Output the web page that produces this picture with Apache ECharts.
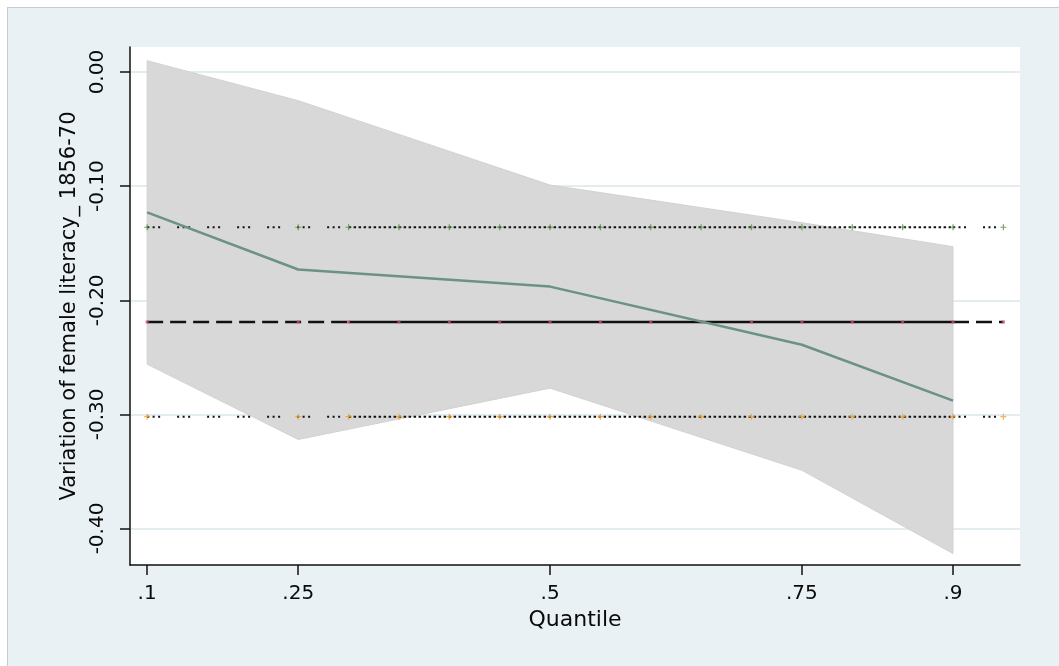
<!DOCTYPE html>
<html>
<head>
<meta charset="utf-8">
<script src="https://cdn.jsdelivr.net/npm/echarts@6/dist/echarts.min.js"></script>
<style>
  html, body { margin: 0; padding: 0; background: #ffffff; }
  #bg { position: absolute; left: 7px; top: 7px; width: 1052px; height: 659px;
        background: #e9f1f4; border-left: 1px solid #c3ccd1; border-top: 1px solid #c3ccd1; }
  #chart { position: absolute; left: 0; top: 0; width: 1059px; height: 666px; }
</style>
</head>
<body>
<div id="bg"></div>
<div id="chart"></div>
<script>
// ---- Data ----
const quantiles = [0.1, 0.25, 0.5, 0.75, 0.9];
const qregCoef  = [-0.123, -0.173, -0.188, -0.239, -0.288];
const ciUpper   = [0.010, -0.025, -0.099, -0.132, -0.153];
const ciLower   = [-0.256, -0.322, -0.277, -0.349, -0.422];

const olsX      = [0.1, 0.25, 0.3, 0.35, 0.4, 0.45, 0.5, 0.55, 0.6, 0.65, 0.7, 0.75, 0.8, 0.85, 0.9, 0.95];
const olsCoef   = -0.219;
const olsUpper  = -0.136;
const olsLower  = -0.302;

const xTicks = [0.1, 0.25, 0.5, 0.75, 0.9];
const yTicks = [0, -0.1, -0.2, -0.3, -0.4];

const FONT = 'DejaVu Sans';

function pts(xs, v) { return xs.map(x => [x, v]); }
const xSparseA = olsX.filter(x => x <= 0.3);
const xDense   = olsX.filter(x => x >= 0.3 && x <= 0.9);
const xSparseB = olsX.filter(x => x >= 0.9);

const plus = 'path://M4,0 L6,0 L6,4 L10,4 L10,6 L6,6 L6,10 L4,10 L4,6 L0,6 L0,4 L4,4 Z';

function lineSeries(data, color, width, type) {
  return {
    type: 'line', data: data, symbol: 'none', silent: true,
    lineStyle: { color: color, width: width, type: type }, z: 3
  };
}

const chart = echarts.init(document.getElementById('chart'), null, { renderer: 'canvas' });
chart.setOption({
  backgroundColor: 'transparent',
  animation: false,
  grid: { left: 130, top: 47, right: 39, bottom: 101, show: true, backgroundColor: '#ffffff', borderWidth: 0 },
  xAxis: {
    type: 'value', min: 0.083, max: 0.9665,
    name: 'Quantile', nameLocation: 'middle', nameGap: 35,
    nameTextStyle: { fontFamily: FONT, fontSize: 22, color: '#0a0a0a' },
    axisLine: { show: true, onZero: false, lineStyle: { color: '#111', width: 1.5 } },
    axisTick: { show: true, length: 10, inside: false, customValues: xTicks, lineStyle: { color: '#111', width: 1.5 } },
    axisLabel: { customValues: xTicks, margin: 19, fontFamily: FONT, fontSize: 20, color: '#0a0a0a',
      formatter: v => String(v).replace(/^0/, '') },
    splitLine: { show: false }
  },
  yAxis: {
    type: 'value', min: -0.432, max: 0.022,
    name: 'Variation of female literacy_ 1856-70', nameLocation: 'middle', nameGap: 49, nameRotate: 90,
    nameTextStyle: { fontFamily: FONT, fontSize: 21, color: '#0a0a0a' },
    axisLine: { show: true, onZero: false, lineStyle: { color: '#111', width: 1.5 } },
    axisTick: { show: true, length: 10, inside: false, customValues: yTicks, lineStyle: { color: '#111', width: 1.5 } },
    axisLabel: { customValues: yTicks, rotate: 90, margin: 22, fontFamily: FONT, fontSize: 20, color: '#0a0a0a',
      formatter: v => (Math.abs(v) < 1e-9 ? 0 : v).toFixed(2) },
    splitLine: { show: true, lineStyle: { color: '#e3ecef', width: 2 } }
  },
  series: [
    {
      type: 'custom', silent: true, z: 1,
      data: quantiles.map((q, i) => [q, ciUpper[i], ciLower[i]]),
      renderItem: function (params, api) {
        if (params.dataIndex !== 0) return null;
        const up = quantiles.map((q, i) => api.coord([q, ciUpper[i]]));
        const lo = quantiles.map((q, i) => api.coord([q, ciLower[i]])).reverse();
        return { type: 'polygon', shape: { points: up.concat(lo) }, style: { fill: '#d8d8d8', stroke: '#d2d2d2', lineWidth: 1 } };
      }
    },
    // OLS coefficient (dashed / solid overlap)
    lineSeries(pts(xSparseA, olsCoef), '#111', 2.5, [16, 7]),
    lineSeries(pts(xDense, olsCoef), '#111', 2.5, 'solid'),
    lineSeries(pts(xSparseB, olsCoef), '#111', 2.5, [16, 7]),
    // OLS confidence interval (dotted)
    lineSeries(pts(xSparseA, olsUpper), '#111', 2, [2, 3.5, 2, 3.5, 2, 17]),
    lineSeries(pts(xDense, olsUpper), '#111', 2, [2.5, 2.5]),
    lineSeries(pts(xSparseB, olsUpper), '#111', 2, [2, 3.5, 2, 3.5, 2, 17]),
    lineSeries(pts(xSparseA, olsLower), '#111', 2, [2, 3.5, 2, 3.5, 2, 17]),
    lineSeries(pts(xDense, olsLower), '#111', 2, [2.5, 2.5]),
    lineSeries(pts(xSparseB, olsLower), '#111', 2, [2, 3.5, 2, 3.5, 2, 17]),
    // markers
    { type: 'scatter', data: pts(olsX, olsUpper), symbol: plus, symbolSize: 6, itemStyle: { color: '#5e8c3c' }, z: 4, silent: true },
    { type: 'scatter', data: pts(olsX, olsLower), symbol: plus, symbolSize: 6, itemStyle: { color: '#f0a030' }, z: 4, silent: true },
    { type: 'scatter', data: pts(olsX, olsCoef), symbol: 'rect', symbolSize: 3, itemStyle: { color: '#c8506e' }, z: 4, silent: true },
    // quantile regression coefficients
    {
      type: 'line', data: quantiles.map((q, i) => [q, qregCoef[i]]), symbol: 'none', silent: true, z: 5,
      lineStyle: { color: '#6b9284', width: 2.5 }
    }
  ]
});
</script>
</body>
</html>
